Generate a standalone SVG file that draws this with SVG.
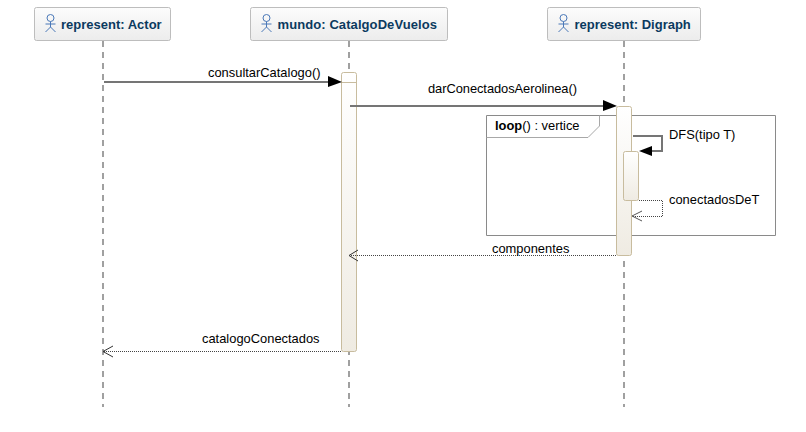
<svg xmlns="http://www.w3.org/2000/svg" width="806" height="432" viewBox="0 0 806 432">
<style>
.head{fill:url(#hg);stroke:#bdbdbd;stroke-width:1}
.life{stroke:#a0a0a0;stroke-width:2;stroke-dasharray:6 5;fill:none}
.act{fill:url(#ag);stroke:#c8bc9e;stroke-width:1}
.sync{stroke:#757575;stroke-width:2;fill:none}
.ret{stroke:#444;stroke-width:1;stroke-dasharray:1 1;fill:none}
.t{font-family:"Liberation Sans",Arial,sans-serif;font-size:12.9px;fill:#000}
.n{font-family:"Liberation Sans",Arial,sans-serif;font-size:13px;font-weight:bold;fill:#0b3a5f}
.fig{fill:none;stroke:#4a78b8;stroke-width:1}
</style>
<defs>
<linearGradient id="hg" x1="0" y1="0" x2="0" y2="1"><stop offset="0" stop-color="#fcfcfc"/><stop offset="1" stop-color="#ececec"/></linearGradient>
<linearGradient id="ag" x1="0" y1="0" x2="0" y2="1"><stop offset="0" stop-color="#ffffff"/><stop offset="1" stop-color="#efebe2"/></linearGradient>
<g id="actor"><circle cx="0" cy="-6" r="3.5" class="fig"/><path d="M0-2.500V3M-5 0H5M0 3L-5 8M0 3L5 8" class="fig"/></g>
</defs>
<rect width="806" height="432" fill="#fff"/>
<g id="lifelines">
<path class="life" d="M103 41V407"/>
<path class="life" d="M349 41V407"/>
<path class="life" d="M624 41V407"/>
</g>
<g id="node-actor">
<rect class="head" x="34.500" y="7.500" width="136" height="33" rx="2"/>
<use href="#actor" x="50.500" y="24"/>
<text class="n" x="61" y="29">represent: Actor</text>
</g>
<g id="node-catalogo">
<rect class="head" x="250.500" y="7.500" width="197" height="33" rx="2"/>
<use href="#actor" x="266.500" y="24"/>
<text class="n" x="277.500" y="29" textLength="159.500">mundo: CatalgoDeVuelos</text>
</g>
<g id="node-digraph">
<rect class="head" x="547.500" y="7.500" width="153" height="33" rx="2"/>
<use href="#actor" x="563.500" y="24"/>
<text class="n" x="574.500" y="29">represent: Digraph</text>
</g>
<g id="frame-loop">
<path d="M486.500 115.500H775.500V235.500H486.500Z" fill="#fff" stroke="#8a8a8a"/>
<path d="M599.500 115.500V126L588 137.500H486.500" fill="none" stroke="#a8a8a8"/>
<text class="t" x="495" y="130"><tspan font-weight="bold">loop</tspan>() : vertice</text>
</g>
<g id="activations">
<rect class="act" x="341.500" y="72.500" width="15" height="279" rx="2"/>
<path d="M342 82.500H356" stroke="#c8bc9e"/>
<rect class="act" x="616.500" y="106.500" width="15" height="149" rx="2"/>
<rect class="act" x="623.500" y="151.500" width="15" height="49" rx="2"/>
</g>
<g id="connectors">
<path class="sync" d="M104 82H330"/>
<path d="M328 76L342 82L328 87Z" fill="#000"/>
<path class="sync" d="M350 106H604"/>
<path d="M603 100L617 106L603 111Z" fill="#000"/>
<path class="sync" d="M633 136H662V151H650"/>
<path d="M652 146L639 151L652 156Z" fill="#000"/>
<path class="ret" d="M639 200.500H662.500V216.500H633"/>
<path d="M642 211L632 216L642 221" fill="none" stroke="#555"/>
<path class="ret" d="M616 255.500H350"/>
<path d="M358 250L349 255.500L358 261" fill="none" stroke="#333"/>
<path class="ret" d="M341 351.500H104"/>
<path d="M113 346L103 351.500L113 357" fill="none" stroke="#333"/>
</g>
<g id="labels">
<text class="t" x="208" y="77">consultarCatalogo()</text>
<text class="t" x="428" y="93" textLength="149">darConectadosAerolinea()</text>
<text class="t" x="669" y="139">DFS(tipo T)</text>
<text class="t" x="669" y="204">conectadosDeT</text>
<text class="t" x="492" y="253">componentes</text>
<text class="t" x="202" y="343">catalogoConectados</text>
</g>
</svg>
